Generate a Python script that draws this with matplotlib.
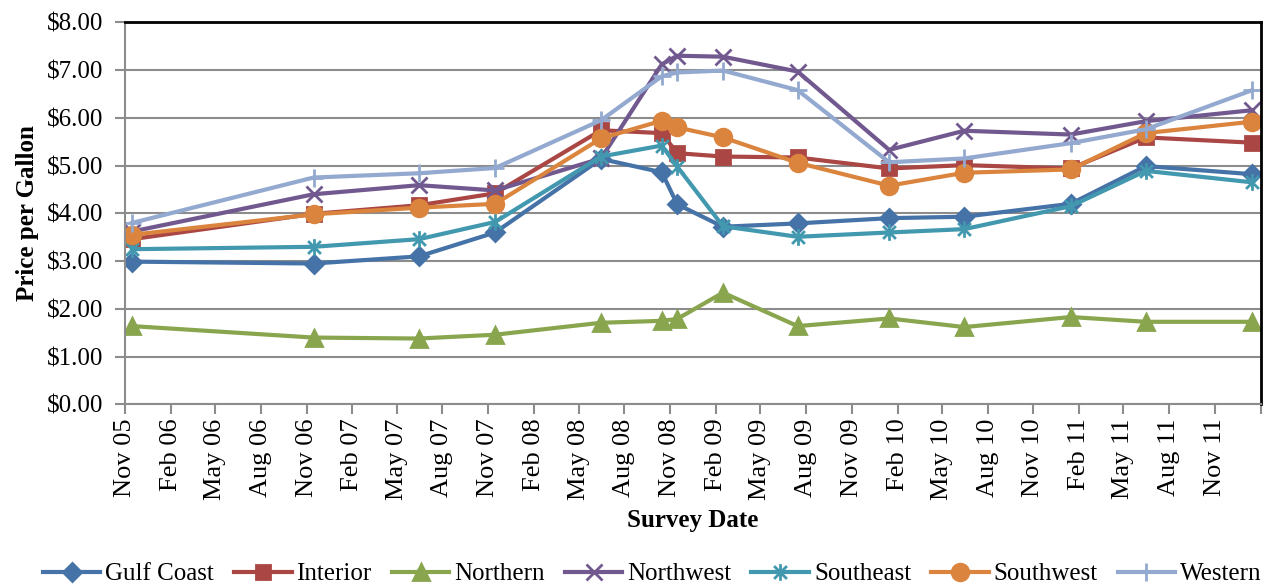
import datetime as dt
import matplotlib
matplotlib.use("Agg")
import matplotlib.pyplot as plt
import matplotlib.dates as mdates
from matplotlib.path import Path
from matplotlib.ticker import FuncFormatter, MultipleLocator

plt.rcParams['font.family'] = ['Liberation Serif', 'DejaVu Serif']

# survey months (points sit mid-month)
months = [(2005, 11), (2006, 11), (2007, 6), (2007, 11), (2008, 6), (2008, 10),
          (2008, 11), (2009, 2), (2009, 7), (2010, 1), (2010, 6), (2011, 1),
          (2011, 6), (2012, 1)]
dates = [dt.datetime(y, m, 15) for y, m in months]

gulf_coast = [2.99, 2.95, 3.10, 3.60, 5.14, 4.86, 4.19, 3.72, 3.79, 3.90, 3.93, 4.20, 4.99, 4.82]
interior = [3.46, 3.99, 4.17, 4.42, 5.74, 5.68, 5.26, 5.19, 5.17, 4.94, 5.01, 4.94, 5.59, 5.48]
northern = [1.64, 1.40, 1.38, 1.46, 1.71, 1.75, 1.79, 2.34, 1.64, 1.80, 1.62, 1.83, 1.73, 1.73]
northwest = [3.62, 4.40, 4.59, 4.48, 5.15, 7.12, 7.30, 7.28, 6.97, 5.33, 5.73, 5.65, 5.93, 6.16]
southeast = [3.25, 3.30, 3.46, 3.82, 5.19, 5.42, 4.98, 3.73, 3.51, 3.60, 3.67, 4.15, 4.89, 4.65]
southwest = [3.55, 3.98, 4.12, 4.20, 5.57, 5.94, 5.80, 5.59, 5.06, 4.58, 4.85, 4.92, 5.68, 5.92]
western = [3.80, 4.75, 4.84, 4.95, 5.95, 6.87, 6.95, 6.99, 6.58, 5.07, 5.15, 5.47, 5.76, 6.58]

# excel style star marker: x with a vertical bar
star = Path([(-1, -1), (1, 1), (-1, 1), (1, -1), (0, -1.3), (0, 1.3)],
            [Path.MOVETO, Path.LINETO, Path.MOVETO, Path.LINETO, Path.MOVETO, Path.LINETO])

series = [
    ("Gulf Coast", gulf_coast, "#4572A7", "D", 9),
    ("Interior", interior, "#AA4643", "s", 10),
    ("Northern", northern, "#89A54E", "^", 11),
    ("Northwest", northwest, "#71588F", "x", 11),
    ("Southeast", southeast, "#4198AF", star, 12),
    ("Southwest", southwest, "#DB843D", "o", 12),
    ("Western", western, "#93A9CF", "+", 13),
]

fig = plt.figure(figsize=(12.69, 5.87), dpi=100)
ax = fig.add_axes([0.0985, 0.311, 0.895, 0.651])

for name, vals, col, mk, ms in series:
    ax.plot(dates, vals, color=col, lw=3, marker=mk, markersize=ms,
            markerfacecolor=col, markeredgecolor=col, markeredgewidth=2, label=name)

x_end = dt.datetime(2012, 2, 1)
ax.set_ylim(0, 8)
ax.set_xlim(dt.datetime(2005, 11, 1), x_end)
ax.yaxis.set_major_locator(MultipleLocator(1))
ax.yaxis.set_major_formatter(FuncFormatter(lambda v, p: "${:.2f}".format(v)))
ax.xaxis.set_major_locator(mdates.MonthLocator(bymonth=(2, 5, 8, 11)))


def month_label(v, p):
    d = mdates.num2date(v)
    if d.year == 2012:
        return ""
    return d.strftime("%b %y")


ax.xaxis.set_major_formatter(FuncFormatter(month_label))
ax.grid(axis='y', color='#8c8c8c', lw=1.5)
ax.set_axisbelow(True)

for s in ['left', 'bottom']:
    ax.spines[s].set_color('#8c8c8c')
    ax.spines[s].set_linewidth(1.5)
for s in ['top', 'right']:
    ax.spines[s].set_color('black')
    ax.spines[s].set_linewidth(2)

ax.tick_params(axis='both', direction='out', length=7, width=1.5, color='#8c8c8c')
ax.tick_params(axis='y', labelsize=18, pad=9)
ax.tick_params(axis='x', labelsize=19, labelrotation=90, pad=3)

ax.set_ylabel("Price per Gallon", fontsize=18, fontweight='bold', labelpad=5)
ax.set_xlabel("Survey Date", fontsize=18, fontweight='bold', labelpad=7)

fig.legend(loc='center', bbox_to_anchor=(0.514, 0.022), ncol=7, frameon=False,
           fontsize=18, handlelength=2.3, handletextpad=0.2, columnspacing=0.8)

fig.savefig("out.png", dpi=100)
